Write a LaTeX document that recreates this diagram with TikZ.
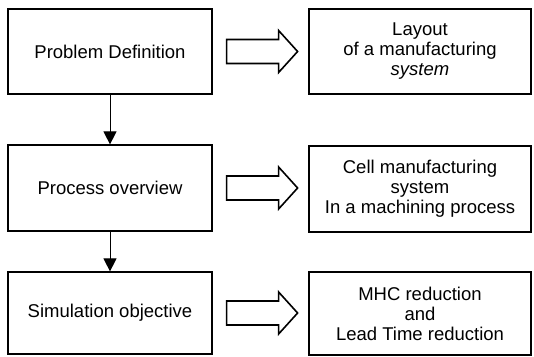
\documentclass[tikz,border=0pt]{standalone}
\usepackage{fontspec}
\setmainfont{Liberation Sans}
\usetikzlibrary{arrows.meta,calc}

\tikzset{
  stagebox/.style={draw=black, line width=1.2pt, inner sep=0pt, align=center,
    minimum width=204pt, minimum height=85pt,
    font=\fontsize{18.5}{20}\selectfont},
  resultbox/.style={stagebox, minimum width=222pt},
  flow/.style={draw=black, line width=1pt, -{Triangle[width=13pt,length=13pt]}},
  blockarrow/.style={draw=black, line width=1.6pt, line join=miter, fill=white}
}

\begin{document}
\begin{tikzpicture}[x=1pt, y=-1pt]
  \useasboundingbox (0,0) rectangle (534,356);

  % stages of the study (left column)
  \node[stagebox] (p1) at (110,51.5) {Problem Definition};
  \node[stagebox, minimum height=86pt] (p2) at (110,188) {Process overview};
  \node[stagebox, minimum height=82pt] (p3) at (110,313) {Simulation objective};

  % what each stage addresses (right column)
  \node[resultbox] (r1) at (420,51.5) {Layout\\of a manufacturing\\\textit{system}};
  \node[resultbox, minimum height=86pt] (r2) at (420,189) {Cell manufacturing\\system\\In a machining process};
  \node[resultbox, minimum height=83pt] (r3) at (420,313.5) {MHC reduction\\and\\Lead Time reduction};

  % sequence of stages
  \draw[flow] (p1) -- (p2);
  \draw[flow] (p2) -- (p3);

  % hollow block arrows from each stage to its result
  \foreach \n in {p1,p2,p3}
    \draw[blockarrow, shift={(\n.east)}]
      (14,-12) -- (66,-12) -- (66,-21) -- (85,0) -- (66,21) -- (66,12) -- (14,12) -- cycle;
\end{tikzpicture}
\end{document}
